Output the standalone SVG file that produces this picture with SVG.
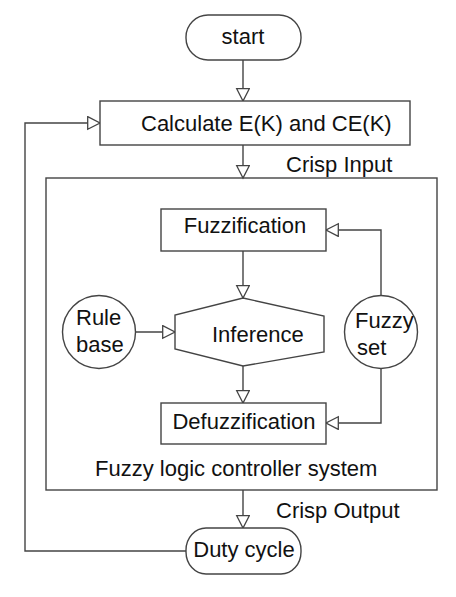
<svg xmlns="http://www.w3.org/2000/svg" width="456" height="597" viewBox="0 0 456 597">
<style>
.s{fill:#fff;stroke:#444;stroke-width:1.4}
.c{fill:none;stroke:#444;stroke-width:1.4}
text{font-family:"Liberation Sans",Arial,sans-serif;font-size:22px;fill:#111}
.m{text-anchor:middle}
</style>
<defs>
<marker id="a" markerUnits="userSpaceOnUse" markerWidth="16" markerHeight="16" refX="13" refY="7" orient="auto">
<path d="M0.7,0.7 L13,7 L0.7,13.3 Z" fill="#fff" stroke="#444" stroke-width="1.3"/>
</marker>
</defs>
<rect width="456" height="597" fill="#fff"/>
<g id="connectors">
<path class="c" d="M243,60 V101" marker-end="url(#a)"/>
<path class="c" d="M243,145 V178" marker-end="url(#a)"/>
<path class="c" d="M243,251 V298" marker-end="url(#a)"/>
<path class="c" d="M135,332 H175" marker-end="url(#a)"/>
<path class="c" d="M243,366 V403" marker-end="url(#a)"/>
<path class="c" d="M381,296 V230 H326" marker-end="url(#a)"/>
<path class="c" d="M381,369 V423 H326" marker-end="url(#a)"/>
<path class="c" d="M243,490 V528" marker-end="url(#a)"/>
<path class="c" d="M186,551 H25 V123 H100" marker-end="url(#a)"/>
</g>
<g id="start">
<rect class="s" x="186" y="15" width="115" height="45" rx="22" ry="22"/>
<text class="m" x="243" y="44">start</text>
</g>
<g id="calculate">
<rect class="s" x="100" y="101" width="310" height="44"/>
<text x="141" y="131">Calculate E(K) and CE(K)</text>
</g>
<text id="crisp-input" x="286" y="172">Crisp Input</text>
<g id="flc">
<rect class="c" x="46" y="178" width="391" height="312"/>
<text x="95" y="476">Fuzzy logic controller system</text>
</g>
<g id="fuzzification">
<rect class="s" x="161" y="209" width="165" height="42"/>
<text class="m" x="245" y="233">Fuzzification</text>
</g>
<g id="inference">
<path class="s" d="M243,298 L324,316 L324,352 L243,366 L175,349 L175,315 Z"/>
<text x="212" y="342">Inference</text>
</g>
<g id="rule-base">
<circle class="s" cx="99" cy="332" r="36.5"/>
<text x="76" y="325">Rule</text>
<text x="76" y="352">base</text>
</g>
<g id="fuzzy-set">
<circle class="s" cx="381" cy="332" r="36.5"/>
<text x="355" y="328">Fuzzy</text>
<text x="357" y="355">set</text>
</g>
<g id="defuzzification">
<rect class="s" x="161" y="403" width="165" height="41"/>
<text class="m" x="244" y="429">Defuzzification</text>
</g>
<text id="crisp-output" x="276" y="518">Crisp Output</text>
<g id="duty-cycle">
<rect class="s" x="186" y="528" width="115" height="46" rx="20" ry="22"/>
<text class="m" x="244" y="557">Duty cycle</text>
</g>
</svg>
